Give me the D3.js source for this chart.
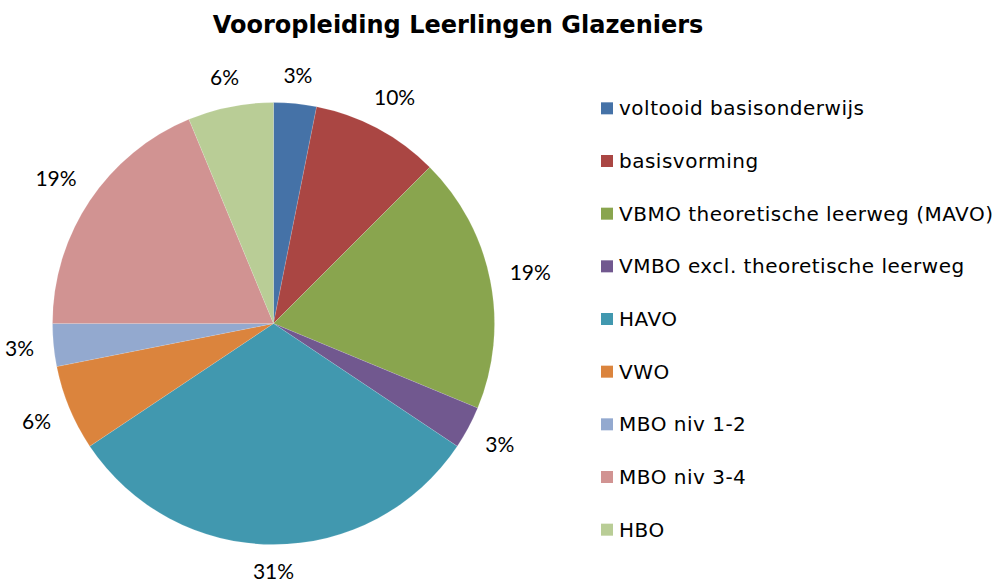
<!DOCTYPE html>
<html>
<head>
<meta charset="utf-8">
<script src="https://cdn.jsdelivr.net/npm/d3@7"></script>
<style>
  body { margin: 0; background: #fff; }
</style>
</head>
<body>
<svg id="chart" width="1006" height="583"></svg>
<script>
var title = "Vooropleiding Leerlingen Glazeniers";
var categories = [
  "voltooid basisonderwijs",
  "basisvorming",
  "VBMO theoretische leerweg (MAVO)",
  "VMBO excl. theoretische leerweg",
  "HAVO",
  "VWO",
  "MBO niv 1-2",
  "MBO niv 3-4",
  "HBO"
];
var counts = [1, 3, 6, 1, 10, 2, 1, 6, 2];
var pctLabels = ["3%", "10%", "19%", "3%", "31%", "6%", "3%", "19%", "6%"];
var colors = ["#4572A7", "#AA4643", "#89A54E", "#71588F", "#4198AF", "#DB843D", "#93A9CF", "#D19392", "#B9CD96"];

var svg = d3.select("#chart");
var cx = 273.5, cy = 323.5, R = 221;

svg.append("text")
  .attr("x", 458)
  .attr("y", 33)
  .attr("text-anchor", "middle")
  .attr("font-family", "DejaVu Sans")
  .attr("font-weight", "bold")
  .attr("font-size", "24px")
  .attr("fill", "#000")
  .text(title);

var data = categories.map(function(c, i) {
  return { name: c, value: counts[i], label: pctLabels[i], color: colors[i] };
});

var pie = d3.pie().sort(null).value(function(d) { return d.value; });
var arc = d3.arc().innerRadius(0).outerRadius(R);
var arcs = pie(data);

var g = svg.append("g").attr("transform", "translate(" + cx + "," + cy + ")");

g.selectAll("path")
  .data(arcs)
  .enter()
  .append("path")
  .attr("d", arc)
  .attr("fill", function(d) { return d.data.color; })
  .attr("stroke", "#fff")
  .attr("stroke-width", 0.3)
  .attr("stroke-opacity", 0.4);

// outside-end labels, pushed out by half the text box
var gap = 19, lh = 8;
g.selectAll("text.lbl")
  .data(arcs)
  .enter()
  .append("text")
  .attr("class", "lbl")
  .attr("font-family", "Lato")
  .attr("font-size", "21px")
  .attr("fill", "#000")
  .attr("text-anchor", "middle")
  .attr("dy", "0.36em")
  .text(function(d) { return d.data.label; })
  .attr("transform", function(d) {
    var a = (d.startAngle + d.endAngle) / 2;
    var s = Math.sin(a), c = Math.cos(a);
    var lw = this.getComputedTextLength() / 2;
    var r = R + gap + lw * Math.abs(s) + lh * Math.abs(c);
    return "translate(" + (r * s) + "," + (-r * c) + ")";
  });

// legend
var legend = svg.append("g").attr("transform", "translate(601,0)");
var ly = d3.scaleBand().domain(categories).range([82, 556]);

var item = legend.selectAll("g")
  .data(data)
  .enter()
  .append("g")
  .attr("transform", function(d) {
    return "translate(0," + (ly(d.name) + ly.bandwidth() / 2) + ")";
  });

item.append("rect")
  .attr("x", 0)
  .attr("y", -6)
  .attr("width", 12)
  .attr("height", 12)
  .attr("fill", function(d) { return d.color; });

item.append("text")
  .attr("x", 18)
  .attr("y", 7)
  .attr("font-family", "DejaVu Sans")
  .attr("font-size", "20px")
  .attr("letter-spacing", "0.5px")
  .attr("fill", "#000")
  .text(function(d) { return d.name; });
</script>
</body>
</html>
